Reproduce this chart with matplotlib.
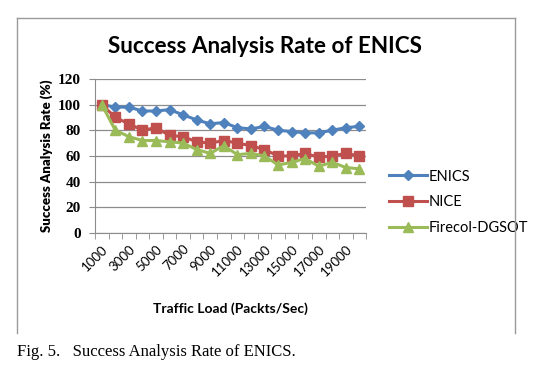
import numpy as np
import matplotlib.pyplot as plt
from matplotlib.lines import Line2D

loads = [1000, 2000, 3000, 4000, 5000, 6000, 7000, 8000, 9000, 10000,
         11000, 12000, 13000, 14000, 15000, 16000, 17000, 18000, 19000, 20000]
enics = [100, 98, 98, 95, 95, 96, 92, 88, 85, 86, 82, 81, 83, 80, 79, 78, 78, 80, 82, 83]
nice = [100, 90, 85, 80, 82, 76, 75, 71, 70, 72, 70, 68, 65, 60, 60, 62, 59, 60, 62, 60]
firecol = [100, 80, 75, 72, 72, 71, 70, 65, 62, 68, 61, 62, 60, 53, 55, 58, 52, 55, 51, 50]
yticks = [0, 20, 40, 60, 80, 100, 120]

fig = plt.figure(figsize=(5.49, 3.79), dpi=100)
ax = fig.add_axes([0.173, 0.385, 0.494, 0.407])

x = np.arange(len(loads))
ax.plot(x, enics, color="#4F81BD", marker="D", markersize=5, linewidth=2.2, label="ENICS", zorder=3)
ax.plot(x, nice, color="#C0504D", marker="s", markersize=7.5, linewidth=2.2, label="NICE", zorder=3)
ax.plot(x, firecol, color="#9BBB59", marker="^", markersize=7, linewidth=2.2, label="Firecol-DGSOT", zorder=4)

ax.set_xlim(-0.5, len(loads) - 0.5)
ax.set_ylim(0, 120)
ax.set_yticks(yticks)
ax.set_yticklabels([str(v) for v in yticks], fontfamily="Liberation Serif", fontweight="bold", fontsize=11)
ax.yaxis.grid(True, color="#8c8c8c", linewidth=0.9)
ax.set_axisbelow(True)

ax.set_xticks(np.arange(-0.5, len(loads), 1.0), minor=True)
ax.set_xticks(x[::2])
ax.set_xticklabels([str(v) for v in loads[::2]], rotation=45, ha="right",
                   rotation_mode="anchor", fontfamily="Lato", fontsize=9.5)
ax.tick_params(axis="x", which="major", length=0, pad=7)
ax.tick_params(axis="x", which="minor", length=4, color="#8c8c8c", direction="out")
ax.tick_params(axis="y", length=4, color="#8c8c8c", pad=6)

for s in ["top", "right"]:
    ax.spines[s].set_visible(False)
for s in ["left", "bottom"]:
    ax.spines[s].set_color("#8c8c8c")

ax.set_ylabel("Success Analysis Rate (%)", fontfamily="Lato", fontweight="heavy", fontsize=9.5, labelpad=4)
ax.set_xlabel("Traffic Load (Packts/Sec)", fontfamily="Lato", fontweight="bold", fontsize=10, labelpad=17)

fig.text(0.483, 0.878, "Success Analysis Rate of ENICS", ha="center", va="center",
         fontfamily="Lato", fontweight="bold", fontsize=16.2)

leg = ax.legend(loc="center left", bbox_to_anchor=(1.035, 0.2), frameon=False,
                prop={"family": "Lato", "size": 10.5}, handlelength=2.6,
                labelspacing=0.8, handletextpad=0.1)

# outer chart border (left, top, right)
c = "#9a9a9a"
fig.add_artist(Line2D([17 / 549, 17 / 549], [1 - 333 / 379, 1 - 18 / 379], color=c, lw=1, transform=fig.transFigure))
fig.add_artist(Line2D([17 / 549, 515 / 549], [1 - 18 / 379, 1 - 18 / 379], color=c, lw=1, transform=fig.transFigure))
fig.add_artist(Line2D([515 / 549, 515 / 549], [1 - 333 / 379, 1 - 18 / 379], color=c, lw=1, transform=fig.transFigure))

fig.text(17 / 549, 1 - 352 / 379, "Fig. 5.   Success Analysis Rate of ENICS.", ha="left", va="center",
         fontfamily="Liberation Serif", fontsize=12)

fig.savefig("out.png", dpi=100)
